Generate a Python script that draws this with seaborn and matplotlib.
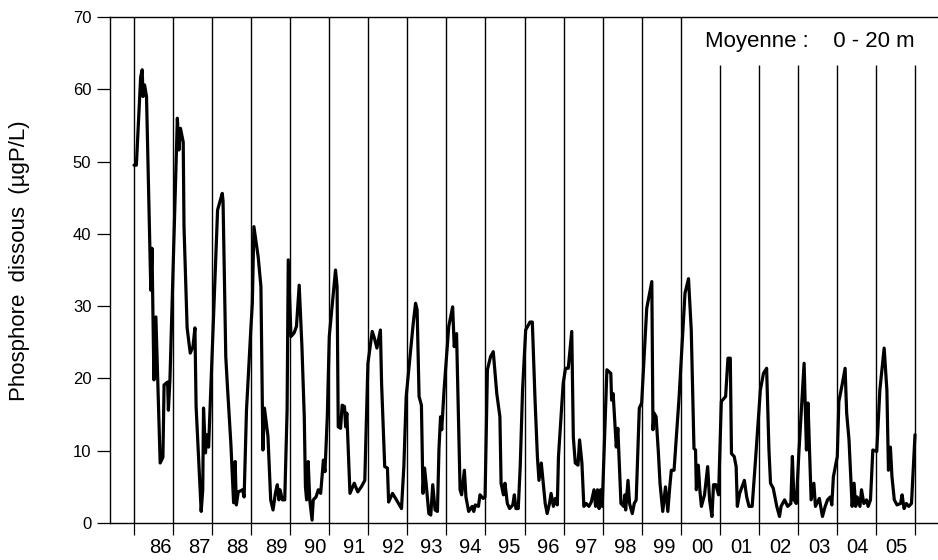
import matplotlib
matplotlib.use("Agg")
import matplotlib.pyplot as plt
import seaborn as sns
import numpy as np

# ---------------- data ----------------
dates = [
    1986.00, 1986.06, 1986.17, 1986.21, 1986.23, 1986.27, 1986.32, 1986.43, 1986.46, 1986.51,
    1986.56, 1986.67, 1986.74, 1986.77, 1986.86, 1986.88, 1986.92,
    1987.11, 1987.15, 1987.19, 1987.26, 1987.28, 1987.36, 1987.44, 1987.51, 1987.56, 1987.59,
    1987.72, 1987.76, 1987.78, 1987.83, 1987.86, 1987.91,
    1988.14, 1988.26, 1988.28, 1988.35, 1988.39, 1988.48, 1988.55, 1988.59, 1988.62, 1988.67,
    1988.78, 1988.82, 1988.88, 1988.99,
    1989.03, 1989.07, 1989.18, 1989.25, 1989.30, 1989.34, 1989.43, 1989.50, 1989.56, 1989.62,
    1989.67, 1989.71, 1989.74, 1989.80, 1989.86, 1989.92, 1989.95,
    1990.02, 1990.10, 1990.16, 1990.23, 1990.30, 1990.36, 1990.39, 1990.42, 1990.46, 1990.50,
    1990.56, 1990.59, 1990.66, 1990.72, 1990.78, 1990.85, 1990.89, 1990.95,
    1991.00, 1991.16, 1991.20, 1991.23, 1991.29, 1991.33, 1991.39, 1991.42, 1991.45, 1991.53,
    1991.64, 1991.73, 1991.82, 1991.91, 1991.99,
    1992.10, 1992.16, 1992.22, 1992.31, 1992.34, 1992.42, 1992.49, 1992.52, 1992.62, 1992.72,
    1992.85, 1992.91, 1992.97,
    1993.15, 1993.21, 1993.25, 1993.30, 1993.36, 1993.40, 1993.44, 1993.48, 1993.55, 1993.60,
    1993.65, 1993.71, 1993.77, 1993.81, 1993.85, 1993.88, 1993.94,
    1994.06, 1994.16, 1994.20, 1994.26, 1994.35, 1994.39, 1994.46, 1994.50, 1994.57, 1994.66,
    1994.70, 1994.74, 1994.82, 1994.86, 1994.94, 1994.99,
    1995.05, 1995.13, 1995.20, 1995.29, 1995.37, 1995.40, 1995.46, 1995.50, 1995.56, 1995.62,
    1995.70, 1995.74, 1995.78, 1995.84, 1995.89, 1995.95,
    1996.03, 1996.14, 1996.20, 1996.27, 1996.33, 1996.37, 1996.43, 1996.53, 1996.58, 1996.64,
    1996.68, 1996.74, 1996.79, 1996.84, 1996.87, 1996.99,
    1997.05, 1997.12, 1997.21, 1997.25, 1997.30, 1997.37, 1997.41, 1997.47, 1997.52, 1997.58,
    1997.65, 1997.71, 1997.78, 1997.82, 1997.87, 1997.91, 1997.95, 1997.99,
    1998.11, 1998.21, 1998.23, 1998.27, 1998.35, 1998.39, 1998.41, 1998.47, 1998.54, 1998.57,
    1998.59, 1998.65, 1998.69, 1998.76, 1998.81, 1998.86, 1998.94,
    1999.00, 1999.13, 1999.26, 1999.29, 1999.32, 1999.37, 1999.43, 1999.47, 1999.54, 1999.61,
    1999.67, 1999.72, 1999.76, 1999.83, 1999.96,
    2000.11, 2000.20, 2000.27, 2000.34, 2000.38, 2000.40, 2000.45, 2000.49, 2000.53, 2000.61,
    2000.69, 2000.74, 2000.80, 2000.84, 2000.90, 2000.97,
    2001.04, 2001.15, 2001.21, 2001.27, 2001.30, 2001.37, 2001.42, 2001.45, 2001.51, 2001.63,
    2001.69, 2001.75, 2001.83, 2001.91,
    2002.04, 2002.12, 2002.20, 2002.26, 2002.30, 2002.37, 2002.46, 2002.53, 2002.57, 2002.66,
    2002.74, 2002.82, 2002.86, 2002.90, 2002.96,
    2003.03, 2003.16, 2003.22, 2003.26, 2003.30, 2003.34, 2003.41, 2003.45, 2003.55, 2003.63,
    2003.70, 2003.76, 2003.83, 2003.87, 2003.91,
    2004.01, 2004.05, 2004.14, 2004.21, 2004.25, 2004.31, 2004.39, 2004.44, 2004.48, 2004.52,
    2004.59, 2004.63, 2004.69, 2004.76, 2004.80, 2004.86, 2004.92,
    2005.02, 2005.10, 2005.21, 2005.28, 2005.32, 2005.37, 2005.41, 2005.47, 2005.54, 2005.63,
    2005.67, 2005.72, 2005.78, 2005.84, 2005.91, 2006.00,
]
phosphore = [
    49.5, 49.5, 61.7, 62.7, 59.0, 60.6, 59.0, 32.2, 38.0, 19.8,
    28.5, 8.3, 9.1, 19.1, 19.5, 15.6, 19.8,
    56.0, 51.6, 54.6, 52.7, 41.0, 27.0, 23.5, 24.4, 27.0, 16.1,
    1.6, 4.6, 15.9, 9.7, 12.2, 10.5,
    43.3, 45.6, 44.5, 23.0, 19.1, 11.0, 2.8, 8.5, 2.5, 4.3,
    4.6, 3.6, 15.6, 26.7,
    30.4, 41.0, 36.8, 32.7, 10.1, 15.9, 12.0, 3.2, 1.8, 4.1,
    5.3, 3.2, 4.6, 3.2, 3.2, 15.6, 36.4,
    25.8, 26.3, 27.2, 32.9, 24.4, 14.7, 5.0, 3.2, 8.5, 3.2,
    0.4, 3.2, 3.6, 4.6, 4.1, 8.7, 7.1, 14.7,
    25.8, 35.0, 32.7, 13.3, 13.1, 16.3, 16.1, 13.3, 15.2, 4.1,
    5.5, 4.3, 5.0, 5.9, 22.1,
    26.5, 25.5, 24.2, 26.7, 19.3, 7.8, 7.6, 2.9, 4.1, 3.2,
    2.0, 7.8, 17.5,
    27.6, 30.4, 29.5, 17.5, 16.3, 4.1, 7.6, 5.5, 1.3, 1.1,
    5.3, 1.8, 1.6, 10.3, 14.7, 12.9, 18.4,
    27.2, 29.9, 24.4, 26.2, 4.6, 3.9, 7.3, 3.6, 1.6, 2.3,
    1.6, 2.5, 2.3, 3.9, 3.4, 3.6,
    21.2, 23.0, 23.7, 17.9, 14.7, 5.5, 3.9, 5.5, 2.7, 2.0,
    2.5, 3.9, 2.0, 2.0, 7.8, 18.4,
    26.7, 27.8, 27.8, 17.0, 9.2, 5.9, 8.3, 2.7, 1.3, 2.7,
    4.1, 2.3, 3.4, 2.5, 9.2, 19.3,
    21.4, 21.4, 26.5, 11.9, 8.3, 8.0, 11.5, 8.3, 2.3, 2.7,
    2.3, 2.9, 4.6, 2.3, 4.6, 2.0, 4.6, 2.3,
    21.2, 20.7, 17.0, 17.9, 10.5, 13.1, 10.5, 2.7, 2.3, 3.9,
    1.8, 5.9, 2.7, 1.3, 2.7, 3.2, 15.9,
    16.6, 29.7, 33.4, 12.9, 15.2, 14.7, 9.6, 5.5, 1.6, 5.0,
    1.6, 5.0, 7.3, 7.3, 17.5,
    31.8, 33.8, 26.7, 10.3, 10.1, 4.6, 8.0, 4.6, 2.3, 3.9,
    7.8, 3.2, 0.9, 5.3, 5.3, 3.9,
    16.8, 17.5, 22.8, 22.8, 9.6, 9.2, 7.8, 2.3, 4.1, 5.9,
    3.6, 2.3, 2.3, 8.3,
    18.4, 20.7, 21.4, 10.1, 5.5, 4.8, 2.3, 0.9, 2.3, 3.2,
    2.3, 2.7, 9.2, 3.2, 2.7,
    10.1, 22.1, 10.1, 16.6, 10.1, 3.2, 5.5, 2.3, 3.4, 0.9,
    2.3, 3.2, 3.6, 2.5, 6.4,
    9.2, 16.8, 19.3, 21.4, 15.2, 11.5, 2.3, 5.5, 2.3, 3.6,
    2.3, 4.6, 2.7, 3.2, 2.3, 3.2, 10.1,
    9.9, 18.4, 24.2, 18.4, 7.3, 10.5, 6.4, 3.2, 2.5, 2.7,
    3.9, 2.0, 2.7, 2.3, 2.7, 12.2,
]
year_bounds = list(range(1986, 2007))
year_labels = ["86", "87", "88", "89", "90", "91", "92", "93", "94", "95",
               "96", "97", "98", "99", "00", "01", "02", "03", "04", "05"]
y_ticks = [0, 10, 20, 30, 40, 50, 60, 70]
ylabel = "Phosphore  dissous  (µgP/L)"
annot = "Moyenne :    0 - 20 m"

# ---------------- style ----------------
sns.set_theme(style="ticks")
plt.rcParams["font.family"] = ["Liberation Sans", "DejaVu Sans"]

W, H = 938, 560
fig = plt.figure(figsize=(W / 100, H / 100), dpi=100)
ax = fig.add_axes([110 / W, 37 / H, 828 / W, 506 / H])

# year separators (those under the annotation are shorter)
short_top = 63.4
full = [y for y in year_bounds if y <= 2000]
short = [y for y in year_bounds if y > 2000]
ax.vlines(full, 0, 70, colors="black", linewidth=1.0, zorder=1)
ax.vlines(short, 0, short_top, colors="black", linewidth=1.0, zorder=1)

sns.lineplot(x=dates, y=phosphore, ax=ax, color="black", linewidth=2.3,
             estimator=None, sort=False, zorder=3)

ax.set_xlim(1985.385, 2006.589)
ax.set_ylim(0, 70)

for s in ["top", "left", "bottom"]:
    ax.spines[s].set_visible(True)
    ax.spines[s].set_color("black")
    ax.spines[s].set_linewidth(1.0)
ax.spines["right"].set_visible(False)

ax.set_yticks(y_ticks)
ax.tick_params(axis="y", direction="out", length=9.4, width=0.9, pad=4,
               labelsize=12, colors="black")

ax.set_xticks(year_bounds)
ax.set_xticklabels([""] * len(year_bounds))
ax.tick_params(axis="x", which="major", direction="out", length=8.6, width=0.9,
               colors="black")
label_pos = [1986.67 + i * 0.9926 for i in range(len(year_labels))]
ax.set_xticks(label_pos, minor=True)
ax.set_xticklabels(year_labels, minor=True)
ax.tick_params(axis="x", which="minor", length=0, pad=10.5, labelsize=14.5,
               colors="black")

ax.set_xlabel("")
ax.set_ylabel("")
fig.text(20 / W, 1 - 261 / H, ylabel, rotation=90, ha="center", va="center",
         fontsize=16, color="black")

ax.text((705 - 110) / 828, (523 - 47) / 506, annot, transform=ax.transAxes,
        ha="left", va="baseline", fontsize=16, color="black")

fig.savefig("out.png", dpi=100)
